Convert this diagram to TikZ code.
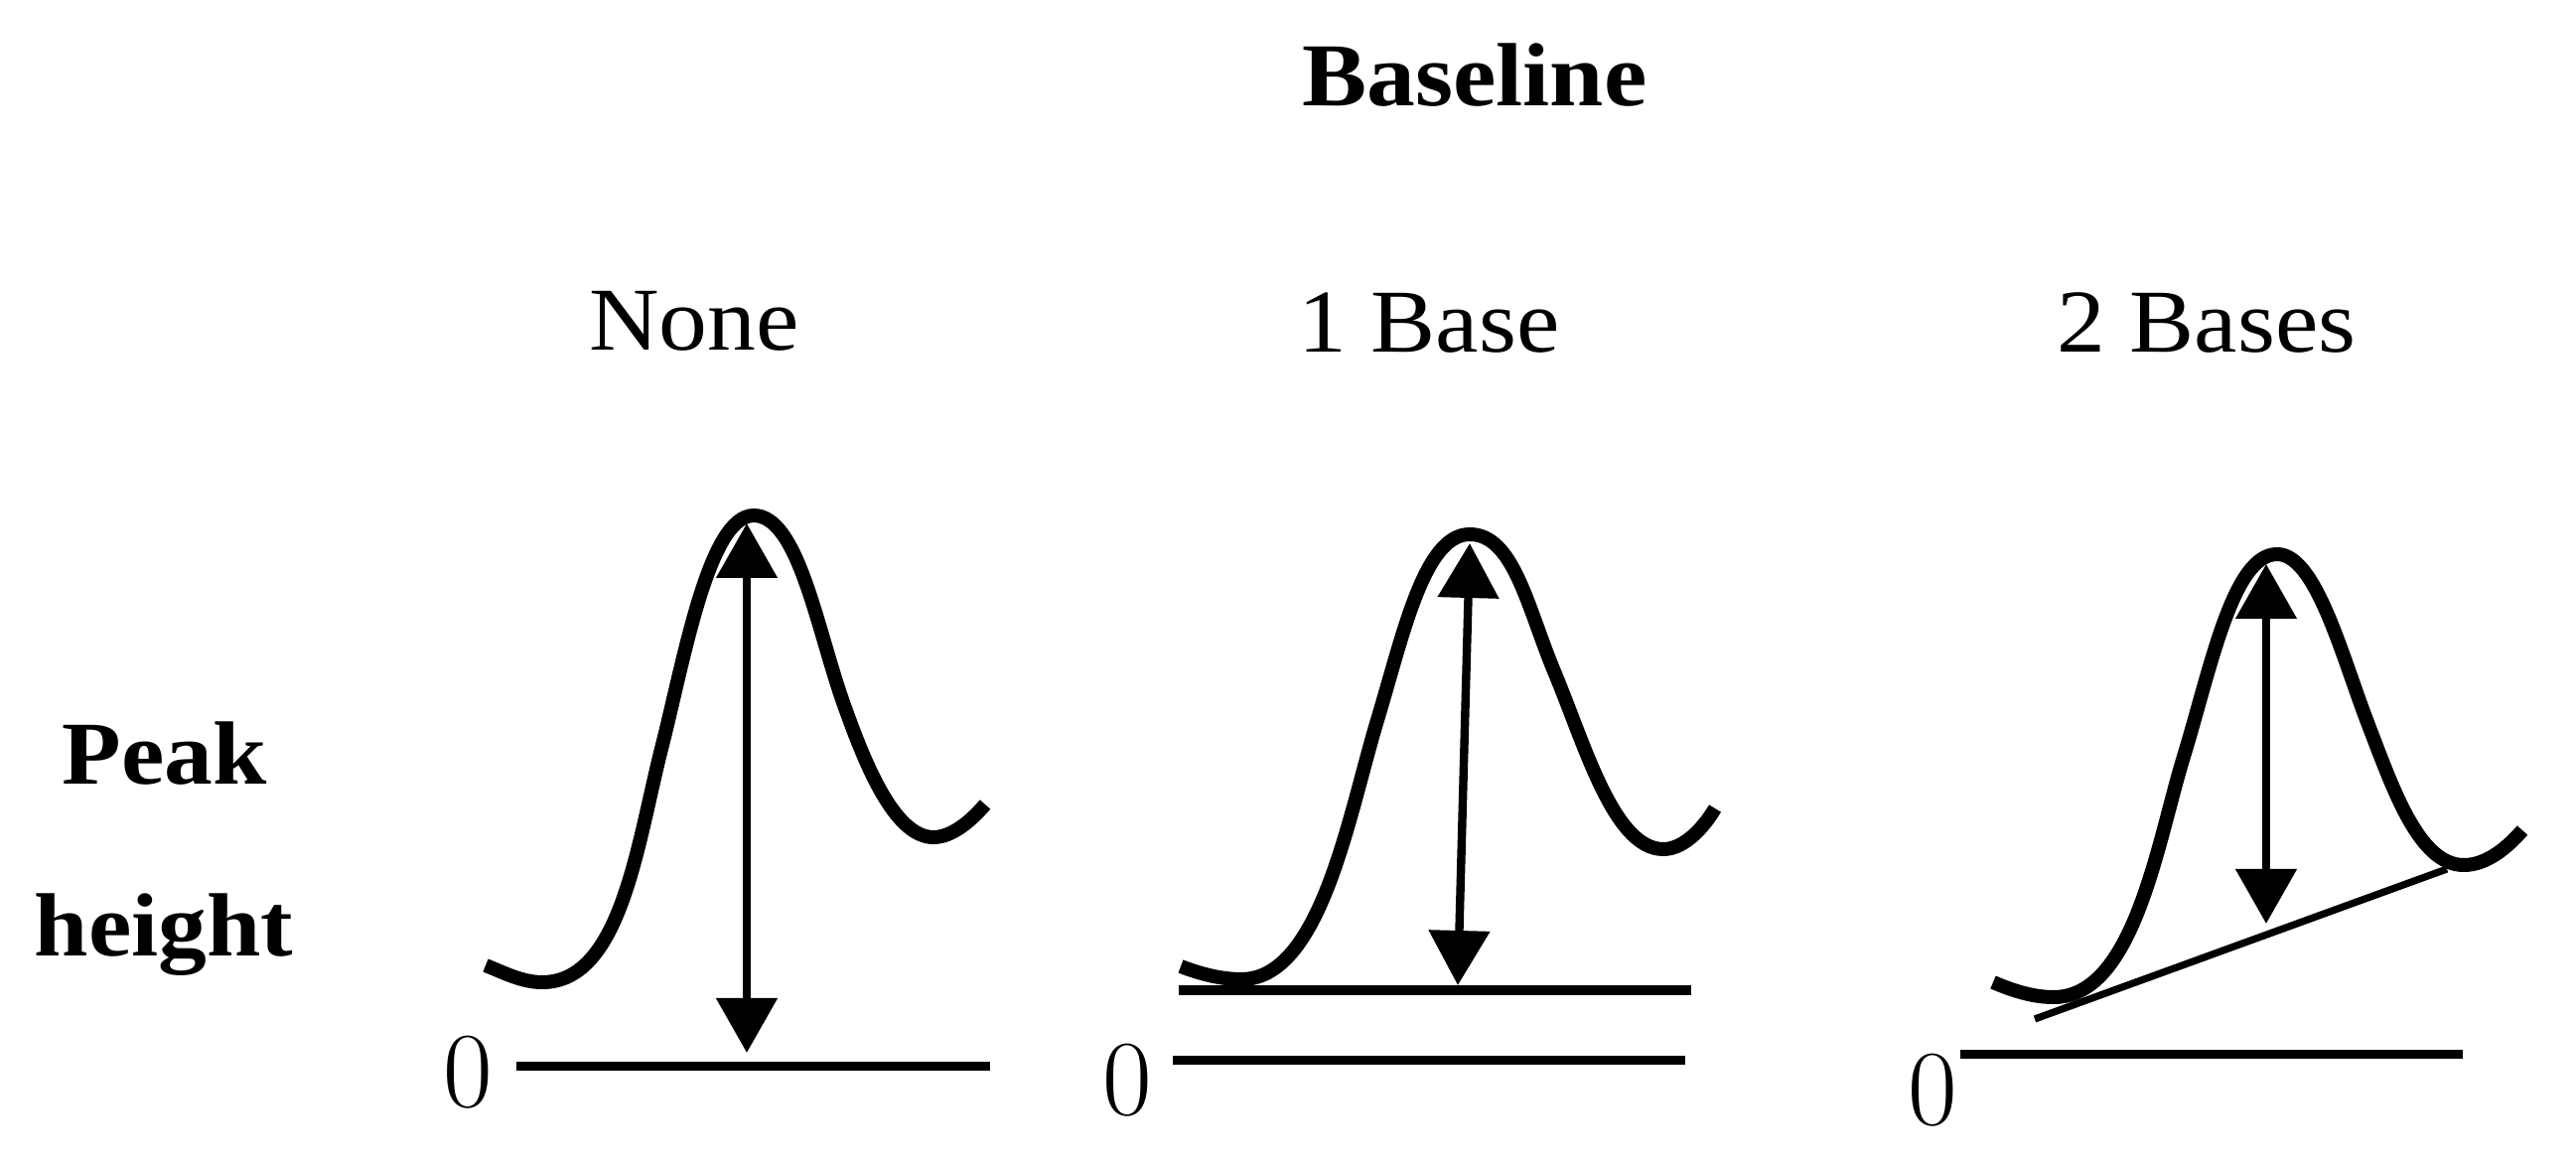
\documentclass[tikz,border=0pt]{standalone}
\usepackage{fontspec}
\setmainfont{Liberation Serif}[FakeStretch=1.08]
\usetikzlibrary{arrows.meta}
\tikzset{
  peak/.style={line width=3.5pt},
  zeroline/.style={line width=2.25pt},
  baseln/.style={line width=2.4pt},
  slopeln/.style={line width=1.8pt},
  arr/.style={line width=2.1pt, {Triangle[length=13.75pt,width=15pt]}-{Triangle[length=13.75pt,width=15pt]}},
  title/.style={font=\fontsize{22.6pt}{25pt}\selectfont, anchor=base, inner sep=0pt},
  btitle/.style={font=\fontsize{22.6pt}{25pt}\selectfont\bfseries, anchor=base, inner sep=0pt},
  zero/.style={font=\fontfamily{lmr}\fontsize{27pt}{30pt}\selectfont, inner sep=0pt}
}
\begin{document}
\begin{tikzpicture}[x=0.25pt,y=-0.25pt]
\useasboundingbox (0,0) rectangle (2594,1174);
% titles
\node[btitle] (baseline) at (1485,107) {Baseline};
\node[title] (none) at (699,353) {None};
\node[title] (onebase) at (1439,355) {1 Base};
\node[title] (twobase) at (2222,355) {2 Bases};
\node[btitle] (peak) at (166,790) {Peak};
\node[btitle] (height) at (165,963) {height};
% zeros
\node[zero] (z1) at (471,1080) {0};
\node[zero] (z2) at (1135,1088) {0};
\node[zero] (z3) at (1946,1098) {0};
% panel 1
\draw[peak] (489,972) .. controls (509,980) and (526,989) .. (546,989)
  .. controls (626,989) and (642,847) .. (667,750)
  .. controls (689,663) and (714,519) .. (759,519)
  .. controls (804,519) and (823,635) .. (850,710)
  .. controls (870,766) and (900,843) .. (940,843)
  .. controls (960,843) and (980,824) .. (992,810);
\coordinate (l1a) at (520,1074);
\coordinate (l1b) at (997,1074);
\draw[zeroline] (l1a) -- (l1b);
\coordinate (a1t) at (752,527);
\coordinate (a1b) at (752,1060);
\draw[arr] (a1t) -- (a1b);
% panel 2
\draw[peak] (1189,973) .. controls (1210,981) and (1230,986) .. (1250,986)
  .. controls (1330,986) and (1358,821) .. (1387,725)
  .. controls (1413,639) and (1434,538) .. (1480,538)
  .. controls (1524,538) and (1538,611) .. (1565,676)
  .. controls (1596,750) and (1625,855) .. (1675,855)
  .. controls (1697,855) and (1717,831) .. (1727,814);
\coordinate (b2a) at (1187,997);
\coordinate (b2b) at (1703,997);
\draw[baseln] (b2a) -- (b2b);
\coordinate (l2a) at (1181,1068);
\coordinate (l2b) at (1697,1068);
\draw[zeroline] (l2a) -- (l2b);
\coordinate (a2t) at (1480,547);
\coordinate (a2b) at (1468,992);
\draw[arr] (a2t) -- (a2b);
% panel 3
\draw[peak] (2007,989) .. controls (2028,998) and (2048,1004) .. (2068,1004)
  .. controls (2148,1004) and (2172,851) .. (2198,765)
  .. controls (2226,674) and (2248,558) .. (2293,558)
  .. controls (2332,558) and (2358,660) .. (2385,730)
  .. controls (2410,795) and (2436,871) .. (2481,871)
  .. controls (2505,871) and (2526,852) .. (2540,836);
\coordinate (s3a) at (2049,1026);
\coordinate (s3b) at (2464,875);
\draw[slopeln] (s3a) -- (s3b);
\coordinate (l3a) at (1974,1062);
\coordinate (l3b) at (2480,1062);
\draw[zeroline] (l3a) -- (l3b);
\coordinate (a3t) at (2282,568);
\coordinate (a3b) at (2282,930);
\draw[arr] (a3t) -- (a3b);
\end{tikzpicture}
\end{document}
